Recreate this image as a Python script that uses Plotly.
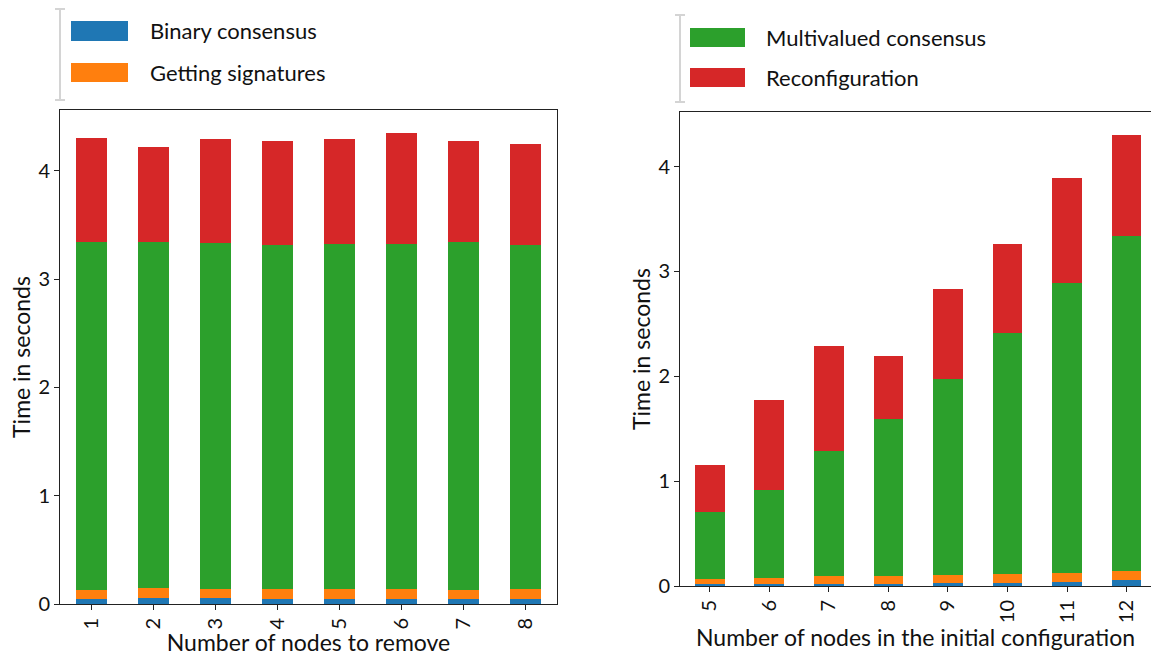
import plotly.graph_objects as go

W, H = 1151, 656

# Left panel: varying number of nodes removed
remove_counts = ["1", "2", "3", "4", "5", "6", "7", "8"]
rm_binary = [0.05, 0.06, 0.06, 0.05, 0.05, 0.05, 0.05, 0.05]
rm_signatures = [0.08, 0.09, 0.08, 0.09, 0.09, 0.09, 0.08, 0.09]
rm_multivalued = [3.21, 3.19, 3.19, 3.175, 3.185, 3.185, 3.21, 3.17]
rm_reconfig = [0.96, 0.88, 0.96, 0.96, 0.965, 1.025, 0.935, 0.935]

# Right panel: varying size of the initial configuration
init_sizes = ["5", "6", "7", "8", "9", "10", "11", "12"]
in_binary = [0.02, 0.02, 0.02, 0.02, 0.03, 0.03, 0.04, 0.055]
in_signatures = [0.047, 0.056, 0.075, 0.075, 0.075, 0.085, 0.084, 0.088]
in_multivalued = [0.639, 0.840, 1.194, 1.499, 1.871, 2.300, 2.769, 3.198]
in_reconfig = [0.449, 0.860, 1.001, 0.602, 0.859, 0.850, 1.002, 0.964]

series_names = ["Binary consensus", "Getting signatures", "Multivalued consensus", "Reconfiguration"]
colors = ["#1f77b4", "#ff7f0e", "#2ca02c", "#d62728"]

FONT = "Lato, 'DejaVu Sans', sans-serif"

fig = go.Figure()

for vals, name, col in zip([rm_binary, rm_signatures, rm_multivalued, rm_reconfig], series_names, colors):
    fig.add_trace(go.Bar(x=remove_counts, y=vals, name=name, marker=dict(color=col, line=dict(width=0)),
                         width=0.5, xaxis="x", yaxis="y", showlegend=False))
for vals, name, col in zip([in_binary, in_signatures, in_multivalued, in_reconfig], series_names, colors):
    fig.add_trace(go.Bar(x=init_sizes, y=vals, name=name, marker=dict(color=col, line=dict(width=0)),
                         width=0.5, xaxis="x2", yaxis="y2", showlegend=False))


def px_x(v):
    return v / W


def px_y(v):
    return 1 - v / H


axis_common = dict(
    showgrid=False, zeroline=False, showline=True, linecolor="#222", linewidth=1,
    ticks="outside", ticklen=5, tickwidth=1, tickcolor="#222", automargin=False,
    tickfont=dict(family=FONT, size=20, color="#111"),
)
title_font = dict(family=FONT, size=23, color="#111")

fig.update_layout(
    width=W, height=H,
    margin=dict(l=0, r=0, t=0, b=0),
    paper_bgcolor="white", plot_bgcolor="white",
    barmode="stack", bargap=0,
    font=dict(family=FONT, color="#111"),
    xaxis=dict(domain=[px_x(60), px_x(557)], anchor="y", type="category", range=[-0.5, 7.5],
               mirror=True, tickangle=-90,
               title=dict(text="Number of nodes to remove", font=title_font, standoff=4),
               **axis_common),
    yaxis=dict(domain=[px_y(604), px_y(110)], anchor="x", range=[0, 4.56], mirror=True,
               tickvals=[0, 1, 2, 3, 4],
               title=dict(text="Time in seconds", font=title_font, standoff=1),
               **axis_common),
    xaxis2=dict(domain=[px_x(680), 1.0], anchor="y2", type="category", range=[-0.5, 7.41],
                mirror=True, tickangle=-90,
                title=dict(text="Number of nodes in the initial configuration", font=title_font, standoff=4),
                **axis_common),
    yaxis2=dict(domain=[px_y(586), px_y(112)], anchor="x2", range=[0, 4.52], mirror=False,
                tickvals=[0, 1, 2, 3, 4],
                title=dict(text="Time in seconds", font=title_font, standoff=1),
                **axis_common),
)

# Hand-drawn legends: a light bracket with swatches and labels
shapes = []
annotations = []


def legend_block(x_bar, y_top, y_bot, sw_x0, sw_x1, entries, text_x):
    grey = "#d4d4d4"
    shapes.append(dict(type="line", xref="paper", yref="paper", x0=px_x(x_bar), x1=px_x(x_bar),
                       y0=px_y(y_top), y1=px_y(y_bot), line=dict(color=grey, width=2)))
    for yy in (y_top, y_bot):
        shapes.append(dict(type="line", xref="paper", yref="paper", x0=px_x(x_bar - 5), x1=px_x(x_bar + 5),
                           y0=px_y(yy), y1=px_y(yy), line=dict(color=grey, width=2)))
    for (label, col, y0, y1) in entries:
        shapes.append(dict(type="rect", xref="paper", yref="paper", x0=px_x(sw_x0), x1=px_x(sw_x1),
                           y0=px_y(y1), y1=px_y(y0), fillcolor=col, line=dict(width=0)))
        annotations.append(dict(text=label, xref="paper", yref="paper", x=px_x(text_x), y=px_y((y0 + y1) / 2),
                                xanchor="left", yanchor="middle", showarrow=False,
                                font=dict(family=FONT, size=22, color="#111")))


legend_block(60, 9, 100, 71, 128,
             [(series_names[0], colors[0], 21, 41), (series_names[1], colors[1], 63, 82)], 148)
legend_block(680, 15, 102, 690, 745,
             [(series_names[2], colors[2], 28, 47), (series_names[3], colors[3], 68, 87)], 764)

fig.update_layout(shapes=shapes, annotations=annotations)

fig.write_html("out.html")
